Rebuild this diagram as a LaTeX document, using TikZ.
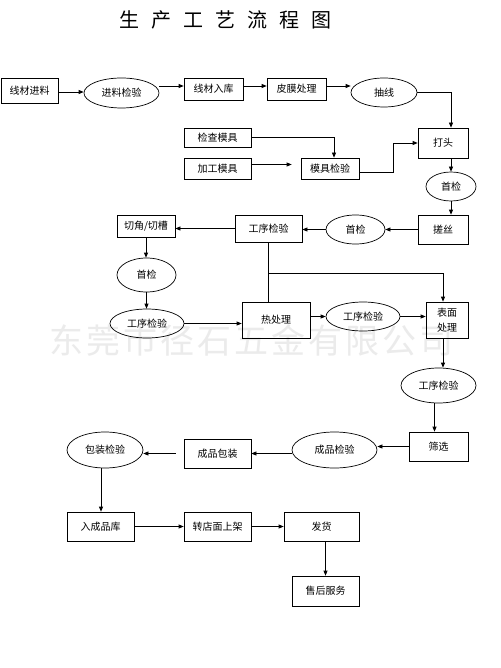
\documentclass[tikz,border=0pt]{standalone}
\usepackage{fontspec}
\newfontfamily\cjk{Noto Sans CJK SC}
\usetikzlibrary{arrows.meta,shapes.geometric}
\begin{document}
\begin{tikzpicture}[x=1pt,y=-1pt,
  every node/.style={font=\cjk\fontsize{10}{15}\selectfont, inner sep=1pt},
  box/.style={draw, line width=0.7pt, rectangle, align=center},
  oval/.style={draw, line width=0.7pt, ellipse, inner sep=0pt},
  arr/.style={line width=0.7pt, -{Triangle[length=5pt,width=4pt]}},
  ln/.style={line width=0.7pt}]
\useasboundingbox[fill=white] (0,0) rectangle (500,668);
% watermark
\node[font=\cjk\fontsize{34}{34}\selectfont, text=black!8] (wm) at (251.5,340)
  {东\hskip3pt 莞\hskip3pt 市\hskip3pt 径\hskip3pt 石\hskip3pt 五\hskip3pt 金\hskip3pt 有\hskip3pt 限\hskip3pt 公\hskip3pt 司};
% title
\node[font=\cjk\fontsize{20}{20}\selectfont] (title) at (225,20)
  {生\hskip12pt 产\hskip12pt 工\hskip12pt 艺\hskip12pt 流\hskip12pt 程\hskip12pt 图};
% row 1
\node[box, minimum width=57pt, minimum height=25pt] (xcjl) at (29.5,90.5) {线材进料};
\node[oval, minimum width=75pt, minimum height=30pt] (jljy) at (121.5,93) {进料检验};
\node[box, minimum width=59pt, minimum height=22pt] (xcrk) at (213.5,89) {线材入库};
\node[box, minimum width=59pt, minimum height=22pt] (pmcl) at (296.5,89) {皮膜处理};
\node[oval, minimum width=66pt, minimum height=29pt] (cx) at (384,92.5) {抽线};
% moulds
\node[box, minimum width=67pt, minimum height=19pt] (jcmj) at (217.5,137.5) {检查模具};
\node[box, minimum width=67pt, minimum height=21pt] (jgmj) at (217.5,168.5) {加工模具};
\node[box, minimum width=58pt, minimum height=21pt] (mjjy) at (330,168.5) {模具检验};
\node[box, minimum width=50pt, minimum height=30pt] (dt) at (443,143) {打头};
\node[oval, minimum width=50pt, minimum height=29pt] (sj1) at (451,186.5) {首检};
\node[box, minimum width=50pt, minimum height=29pt] (cs) at (443,229.5) {搓丝};
\node[oval, minimum width=59pt, minimum height=29pt] (sj2) at (355.5,229.5) {首检};
\node[box, minimum width=67pt, minimum height=27pt] (gxjy1) at (268.5,228.5) {工序检验};
\node[box, minimum width=58pt, minimum height=22pt] (qj) at (146,226) {切角/切槽};
\node[oval, minimum width=59pt, minimum height=34pt] (sj3) at (146.5,275) {首检};
\node[oval, minimum width=74pt, minimum height=29pt] (gxjy2) at (147,323.5) {工序检验};
\node[box, minimum width=68pt, minimum height=36pt] (rcl) at (276,320) {热处理};
\node[oval, minimum width=74pt, minimum height=29pt] (gxjy3) at (363,316.5) {工序检验};
\node[box, minimum width=42pt, minimum height=36pt] (bmcl) at (447,320) {表面\\处理};
\node[oval, minimum width=75pt, minimum height=35pt] (gxjy4) at (438.5,385.5) {工序检验};
\node[box, minimum width=59pt, minimum height=29pt] (sx) at (438.5,446.5) {筛选};
\node[oval, minimum width=85pt, minimum height=36pt] (cpjy) at (334.5,450) {成品检验};
\node[box, minimum width=67pt, minimum height=29pt] (cpbz) at (217.5,453.5) {成品包装};
\node[oval, minimum width=76pt, minimum height=36pt] (bzjy) at (105,450) {包装检验};
\node[box, minimum width=67pt, minimum height=29pt] (rcpk) at (100.5,526.5) {入成品库};
\node[box, minimum width=67pt, minimum height=29pt] (zdm) at (217.5,526.5) {转店面上架};
\node[box, minimum width=75pt, minimum height=29pt] (fh) at (321.5,526.5) {发货};
\node[box, minimum width=67pt, minimum height=30pt] (shfw) at (325.5,591) {售后服务};
% connectors row 1
\draw[arr] ([yshift=-1.5pt]xcjl.east) -- ([yshift=-1.5pt]xcjl.east -| jljy.west);
\draw[arr] ([yshift=3pt]xcrk.west -| jljy.east) -- ([yshift=3pt]xcrk.west);
\draw[arr] ([yshift=3pt]xcrk.east) -- ([yshift=3pt]pmcl.west);
\draw[arr] ([yshift=3pt]pmcl.east) -- ([yshift=3pt]pmcl.east -| cx.west);
\draw[arr] (cx.east) -| (dt.north -| sj1.center);
% moulds
\draw[arr] (jcmj.east) -| ([xshift=4pt]mjjy.north);
\draw[arr] ([yshift=4pt]jgmj.east) -- ([xshift=-9pt,yshift=4pt]mjjy.west);
\coordinate (mk) at (393,143);
\draw[arr] ([yshift=-3.5pt]mjjy.east) -| (mk) -- (mk -| dt.west);
% right column
\draw[arr] (dt.south -| sj1.north) -- (sj1.north);
\draw[arr] (sj1.south) -- (sj1.south |- cs.north);
\draw[arr] (cs.west) -- (sj2.east);
\draw[arr] (sj2.west) -- (sj2.west -| gxjy1.east);
\draw[arr] (gxjy1.west) -- (gxjy1.west -| qj.east);
\draw[arr] (qj.south) -- (qj.south |- sj3.north);
\draw[arr] (sj3.south) -- (sj3.south |- gxjy2.north);
\draw[arr] (gxjy2.east) -- (gxjy2.east -| rcl.west);
\draw[ln] (gxjy1.south) -- (gxjy1.south |- rcl.north);
\coordinate (j) at (268.5,273);
\draw[arr] (j) -| ([xshift=-4pt]bmcl.north);
\draw[arr] (rcl.east |- gxjy3.west) -- (gxjy3.west);
\draw[arr] (gxjy3.east) -- (gxjy3.east -| bmcl.west);
\draw[arr] ([xshift=-4pt]bmcl.south) -- ([xshift=-4pt]bmcl.south |- gxjy4.north);
\draw[arr] ([xshift=-4pt]gxjy4.south) -- ([xshift=-4pt]gxjy4.south |- sx.north);
\draw[arr] (sx.west) -- (sx.west -| cpjy.east);
\draw[arr] (cpjy.west |- cpbz.east) -- (cpbz.east);
\draw[arr] ([xshift=-8pt]cpbz.west) -- (cpbz.west -| bzjy.east);
\draw[arr] ([xshift=-4pt]bzjy.south) -- ([xshift=-4pt]bzjy.south |- rcpk.north);
\draw[arr] (rcpk.east) -- (zdm.west);
\draw[arr] (zdm.east) -- (fh.west);
\draw[arr] (shfw.north |- fh.south) -- (shfw.north);
\end{tikzpicture}
\end{document}
